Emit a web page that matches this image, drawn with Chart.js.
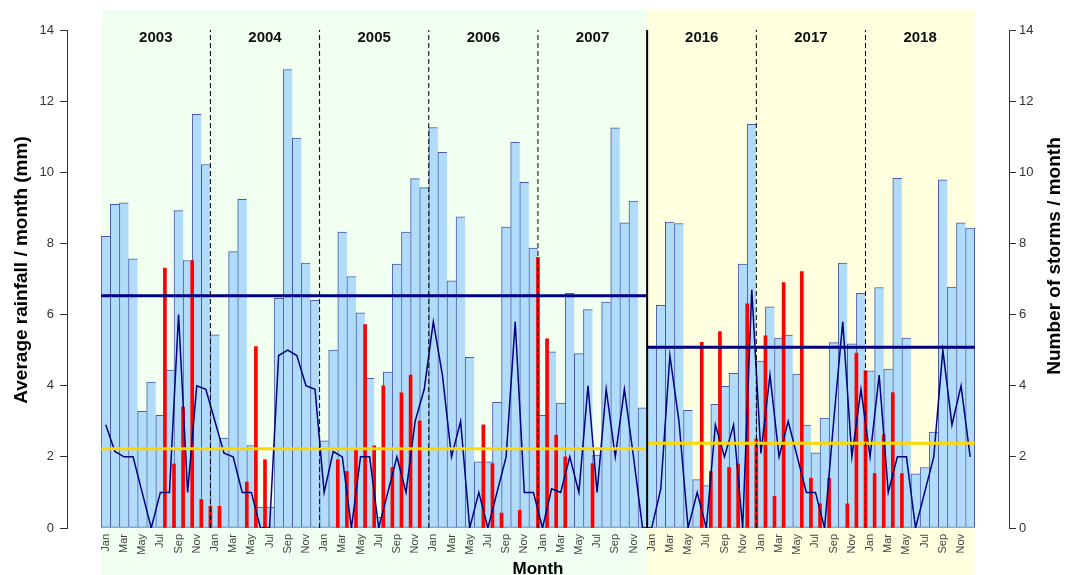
<!DOCTYPE html>
<html>
<head>
<meta charset="utf-8">
<script src="https://cdn.jsdelivr.net/npm/chart.js@4.4.1/dist/chart.umd.min.js"></script>
<style>
  html, body { margin: 0; padding: 0; background: #ffffff; }
  canvas { display: block; }
</style>
</head>
<body>
<canvas id="chart" width="1073" height="575"></canvas>
<script>
// ---------------- DATA ----------------
const years = ['2003', '2004', '2005', '2006', '2007', '2016', '2017', '2018'];
const tickMonths = ['Jan', 'Mar', 'May', 'Jul', 'Sep', 'Nov'];

// Average rainfall / month (mm) — light blue bars, one per month (96)
const rainfall = [
  8.20, 9.10, 9.14, 7.57, 3.28, 4.10, 3.17, 4.44, 8.92, 7.52, 11.63, 10.22,   // 2003
  5.43, 2.53, 7.77, 9.24, 2.32, 0.59, 0.59, 6.46, 12.89, 10.96, 7.45, 6.40,   // 2004
  2.45, 5.00, 8.32, 7.07, 6.05, 4.21, 0.30, 4.38, 7.42, 8.32, 9.82, 9.57,     // 2005
  11.26, 10.56, 6.95, 8.75, 4.80, 1.86, 1.86, 3.53, 8.46, 10.84, 9.72, 7.87,  // 2006
  3.17, 4.95, 3.51, 6.60, 4.90, 6.14, 2.05, 6.35, 11.25, 8.58, 9.19, 3.38,    // 2007
  5.10, 6.26, 8.60, 8.56, 3.31, 1.36, 1.19, 3.48, 3.98, 4.35, 7.42, 11.35,    // 2016
  4.69, 6.22, 5.34, 5.42, 4.33, 2.89, 2.11, 3.09, 5.21, 7.45, 5.18, 6.60,     // 2017
  4.42, 6.76, 4.47, 9.83, 5.34, 1.52, 1.70, 2.70, 9.79, 6.77, 8.58, 8.43      // 2018
];

// Number of storms / month — dark blue line (96)
const storms = [
  2.9, 2.15, 2.0, 2.0, 1.0, 0, 1.0, 1.0, 6.0, 1.0, 4.0, 3.9,      // 2003
  3.0, 2.1, 2.0, 1.0, 1.0, 0, 0, 4.85, 5.0, 4.85, 4.0, 3.9,       // 2004
  1.0, 2.15, 2.0, 0, 2.0, 2.0, 0, 1.0, 2.0, 1.0, 3.0, 3.9,        // 2005
  5.8, 4.3, 2.0, 3.0, 0, 1.0, 0, 1.0, 2.0, 5.8, 1.0, 1.0,         // 2006
  0, 1.1, 1.0, 2.0, 1.0, 4.0, 1.0, 3.9, 2.0, 3.9, 2.0, 0,         // 2007
  0, 1.1, 4.85, 3.0, 0, 1.0, 0, 2.9, 2.0, 2.9, 0, 6.7,            // 2016
  2.1, 4.3, 2.0, 3.0, 2.0, 1.0, 1.0, 0, 3.0, 5.8, 2.0, 3.9,       // 2017
  2.0, 4.3, 1.0, 2.0, 2.0, 0, 1.0, 2.0, 5.0, 2.9, 4.0, 2.0        // 2018
];

// Red bars (96), drawn at the right edge of each month
const redValues = [
  0, 0, 0, 0, 0, 0, 7.31, 1.80, 3.40, 7.52, 0.80, 0.61,            // 2003
  0.61, 0, 0, 1.29, 5.10, 1.92, 0, 0, 0, 0, 0, 0,                 // 2004
  0, 1.92, 1.59, 2.20, 5.72, 2.31, 4.00, 1.70, 3.80, 4.30, 3.01, 0, // 2005
  0, 0, 0, 0, 0, 2.90, 1.81, 0.42, 0, 0.50, 0, 7.61,              // 2006
  5.32, 2.61, 2.00, 0, 0, 1.81, 0, 0, 0, 0, 0, 0,                 // 2007
  0, 0, 0, 0, 0, 5.22, 1.59, 5.52, 1.70, 1.80, 6.30, 2.50,        // 2016
  5.40, 0.89, 6.90, 0, 7.21, 1.40, 0.68, 1.40, 0, 0.68, 4.92, 4.42, // 2017
  1.53, 2.62, 3.81, 1.53, 0, 0, 0, 0, 0, 0, 0, 0                  // 2018
];

// Period means (horizontal lines) and period boundaries (in month units)
const periodBounds = [0, 60, 96];
const rainMeans = [6.53, 5.08];
const stormMeans = [2.23, 2.38];
const yearBreaks = [12, 24, 36, 48, 72, 84];
const periodBreak = 60;
const yTicks = [0, 2, 4, 6, 8, 10, 12, 14];

// ---------------- STYLE ----------------
const FONT = "'Liberation Sans', Arial, sans-serif";
const periodColors = ['#f0fff0', '#ffffe0'];
const NAVY = '#000080';

// ---------------- BUILD DATASETS ----------------
const nMonths = rainfall.length;
const barData = rainfall.map((v, i) => ({ x: i + 0.5, y: v }));
const stormData = storms.map((v, i) => ({ x: i + 0.5, y: v }));
// red bars live on axis x2, which is shifted by half a month so they sit on the month's right edge
const redData = redValues.map((v, i) => ({ x: i + 0.5, y: v })).filter(p => p.y > 0);

function segments(bounds, values) {
  const out = [];
  values.forEach((v, i) => {
    out.push({ x: bounds[i], y: v }, { x: bounds[i + 1], y: v });
    if (i < values.length - 1) out.push({ x: bounds[i + 1], y: null });
  });
  return out;
}
function verticals(xs) {
  const out = [];
  xs.forEach((x, i) => {
    out.push({ x: x, y: 0 }, { x: x, y: 14 });
    if (i < xs.length - 1) out.push({ x: x, y: null });
  });
  return out;
}

const tickPositions = [];
for (let i = 0; i < nMonths; i += 2) tickPositions.push(i + 0.5);

const X_MIN = -3.76, X_MAX = 99.77;

const decor = {
  id: 'decor',
  beforeDraw(chart) {
    const { ctx, scales: { x } } = chart;
    ctx.save();
    const top = chart.chartArea.top - 20;
    for (let i = 0; i < periodColors.length; i++) {
      const x0 = x.getPixelForValue(periodBounds[i]);
      const x1 = x.getPixelForValue(periodBounds[i + 1]);
      ctx.fillStyle = periodColors[i];
      ctx.fillRect(x0, top, x1 - x0, chart.height - top);
    }
    ctx.restore();
  },
  afterDraw(chart) {
    const { ctx, scales: { x }, chartArea } = chart;
    ctx.save();
    ctx.fillStyle = '#111';
    ctx.textAlign = 'center';
    ctx.textBaseline = 'middle';
    ctx.font = 'bold 15px ' + FONT;
    years.forEach((yr, i) => {
      ctx.fillText(yr, x.getPixelForValue(i * 12 + 6), chartArea.top + 8);
    });
    // axis titles
    ctx.fillStyle = '#000';
    ctx.font = 'bold 19px ' + FONT;
    const midY = (chartArea.top + chartArea.bottom) / 2;
    ctx.save();
    ctx.translate(22, midY - 9);
    ctx.rotate(-Math.PI / 2);
    ctx.fillText('Average rainfall / month (mm)', 0, 0);
    ctx.restore();
    ctx.save();
    ctx.translate(1055, midY - 23);
    ctx.rotate(-Math.PI / 2);
    ctx.fillText('Number of storms / month', 0, 0);
    ctx.restore();
    ctx.font = 'bold 17px ' + FONT;
    ctx.fillText('Month', (x.getPixelForValue(0) + x.getPixelForValue(96)) / 2, chartArea.bottom + 41);
    ctx.restore();
  }
};

new Chart(document.getElementById('chart'), {
  type: 'bar',
  data: {
    datasets: [
      {
        label: 'Period break',
        type: 'line',
        data: verticals([periodBreak]),
        borderColor: '#000',
        borderWidth: 2,
        pointRadius: 0,
        spanGaps: false,
        order: 1
      },
      {
        label: 'Year breaks',
        type: 'line',
        data: verticals(yearBreaks),
        borderColor: '#000',
        borderWidth: 1,
        borderDash: [5, 3],
        pointRadius: 0,
        spanGaps: false,
        order: 2
      },
      {
        label: 'Mean storms',
        type: 'line',
        data: segments(periodBounds, stormMeans),
        yAxisID: 'y1',
        borderColor: '#ffd700',
        borderWidth: 3,
        pointRadius: 0,
        spanGaps: false,
        order: 3
      },
      {
        label: 'Mean rainfall',
        type: 'line',
        data: segments(periodBounds, rainMeans),
        borderColor: NAVY,
        borderWidth: 3,
        pointRadius: 0,
        spanGaps: false,
        order: 4
      },
      {
        label: 'Storms / month',
        type: 'line',
        data: stormData,
        yAxisID: 'y1',
        borderColor: NAVY,
        borderWidth: 1.5,
        pointRadius: 0,
        tension: 0,
        order: 5
      },
      {
        label: 'Red',
        type: 'bar',
        data: redData,
        xAxisID: 'x2',
        yAxisID: 'y1',
        backgroundColor: '#ff0000',
        borderWidth: 0,
        barThickness: 3,
        grouped: false,
        order: 6
      },
      {
        label: 'Rainfall',
        type: 'bar',
        data: barData,
        backgroundColor: '#b0dcfa',
        borderColor: '#4a5aa8',
        borderSkipped: false,
        borderWidth: (c) => c.dataIndex === nMonths - 1
          ? { left: 1, right: 1, top: 1, bottom: 1 }
          : { left: 1, right: 0, top: 1, bottom: 1 },
        barPercentage: 1,
        categoryPercentage: 1,
        grouped: false,
        order: 7
      }
    ]
  },
  options: {
    responsive: false,
    animation: false,
    layout: { padding: { top: 30, left: 0, right: 0, bottom: 0 } },
    plugins: {
      legend: { display: false },
      tooltip: { enabled: false }
    },
    scales: {
      x: {
        type: 'linear',
        min: X_MIN,
        max: X_MAX,
        offset: false,
        grid: { display: false, drawTicks: false },
        border: { display: false },
        afterBuildTicks: (s) => { s.ticks = tickPositions.map(v => ({ value: v })); },
        afterFit: (s) => { s.height = 47; },
        ticks: {
          autoSkip: false,
          minRotation: 90,
          maxRotation: 90,
          padding: 6,
          color: '#444',
          font: { family: FONT, size: 11 },
          callback: (v, i) => tickMonths[i % tickMonths.length]
        }
      },
      x2: {
        type: 'linear',
        min: X_MIN - 0.5,
        max: X_MAX - 0.5,
        offset: false,
        display: false
      },
      y: {
        position: 'left',
        min: 0,
        max: 14,
        afterBuildTicks: (s) => { s.ticks = yTicks.map(v => ({ value: v })); },
        afterFit: (s) => { s.width = 67; },
        grid: { drawOnChartArea: false, tickLength: 7, color: '#333' },
        border: { display: true, color: '#333', width: 1 },
        ticks: { padding: 6, color: '#333', font: { family: FONT, size: 13 } }
      },
      y1: {
        position: 'right',
        min: 0,
        max: 14,
        afterBuildTicks: (s) => { s.ticks = yTicks.map(v => ({ value: v })); },
        afterFit: (s) => { s.width = 64; },
        grid: { drawOnChartArea: false, tickLength: 7, color: '#333' },
        border: { display: true, color: '#333', width: 1 },
        ticks: { padding: 3, color: '#333', font: { family: FONT, size: 13 } }
      }
    }
  },
  plugins: [decor]
});
</script>
</body>
</html>
